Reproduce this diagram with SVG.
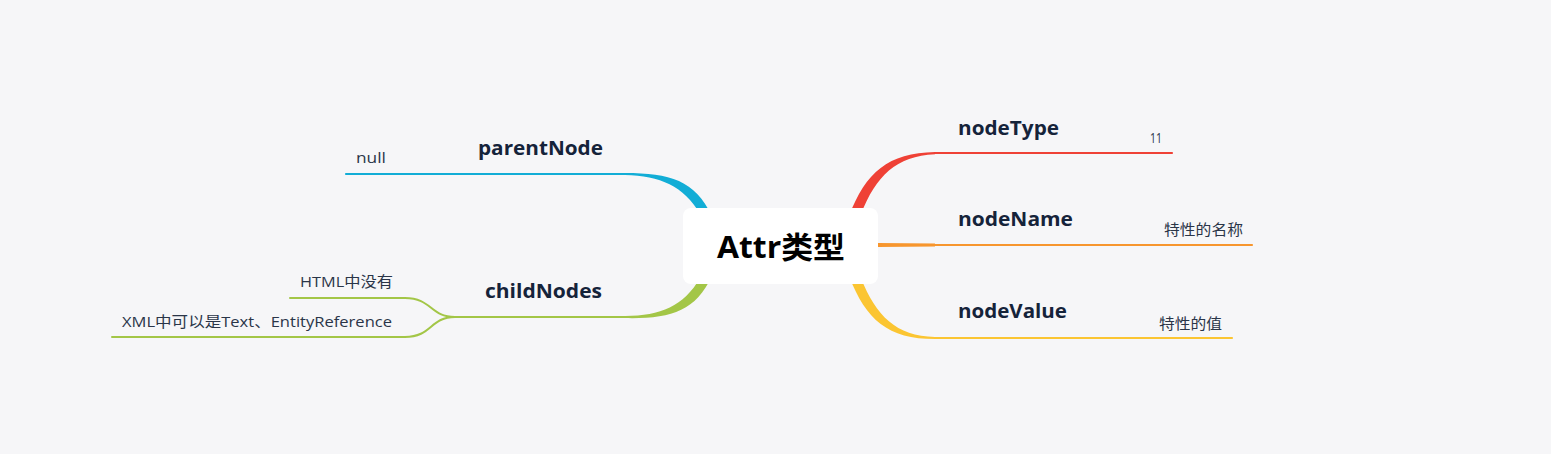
<svg xmlns="http://www.w3.org/2000/svg" width="1551" height="454" viewBox="0 0 1551 454">
<style>
.t1{font-family:"Open Sans","Noto Sans CJK SC",sans-serif;font-weight:700;font-size:19px;fill:#15233a}
.t2{font-family:"Open Sans","Noto Sans CJK SC",sans-serif;font-size:15px;fill:#2a3548}
.c{fill:none;stroke-linecap:round}
</style>
<rect width="1551" height="454" fill="#f6f6f8"/>
<g id="connectors">
<path d="M935,153 L1172,153" class="c" stroke="#ef4136" stroke-width="2.2"/>
<path d="M849,216 C866,172 888,153 935,152 L935,154.2 C896,156 876,176 861,214 Z" fill="#ef4136"/>
<path d="M935,245 L1252,245" class="c" stroke="#f7962e" stroke-width="2.2"/>
<path d="M878,243 L935,243.5 L935,246.5 L878,247 Z" fill="#f7962e"/>
<path d="M935,338 L1232,338" class="c" stroke="#fbc532" stroke-width="2.2"/>
<path d="M849,276 C866,320 888,339 935,339.1 L935,336.9 C896,336 876,316 861,278 Z" fill="#fbc532"/>
<path d="M625,174 L346,174" class="c" stroke="#12add6" stroke-width="2.2"/>
<path d="M712,216 C695,180 670,173 625,172.9 L625,175.1 C660,176 684,186 700,214 Z" fill="#12add6"/>
<path d="M625,317 L455,317" class="c" stroke="#a3c647" stroke-width="2.2"/>
<path d="M712,276 C695,312 670,319 625,318.1 L625,315.9 C660,316 684,306 700,278 Z" fill="#a3c647"/>
<path d="M455,317 C430,317 432,298 405,298 L290,298" class="c" stroke="#a3c647" stroke-width="2"/>
<path d="M455,317 C430,317 432,337 405,337 L112,337" class="c" stroke="#a3c647" stroke-width="2"/>
</g>
<g id="center">
<rect x="683" y="208" width="195" height="76" rx="8" fill="#ffffff"/>
<text x="717" y="258" textLength="128" lengthAdjust="spacingAndGlyphs" font-family="'Open Sans','Noto Sans CJK SC',sans-serif" font-weight="700" font-size="30" fill="#000">Attr类型</text>
</g>
<g id="nodeType"><text class="t1" x="958" y="135" textLength="101" lengthAdjust="spacingAndGlyphs">nodeType</text></g>
<g id="nodeType-val"><text class="t2" x="1150" y="143" textLength="12" lengthAdjust="spacingAndGlyphs">11</text></g>
<g id="nodeName"><text class="t1" x="958" y="226" textLength="115" lengthAdjust="spacingAndGlyphs">nodeName</text></g>
<g id="nodeName-val"><text class="t2" x="1164" y="235" textLength="79" lengthAdjust="spacingAndGlyphs">特性的名称</text></g>
<g id="nodeValue"><text class="t1" x="958" y="318" textLength="109" lengthAdjust="spacingAndGlyphs">nodeValue</text></g>
<g id="nodeValue-val"><text class="t2" x="1159" y="329" textLength="63" lengthAdjust="spacingAndGlyphs">特性的值</text></g>
<g id="parentNode"><text class="t1" x="478" y="155" textLength="125" lengthAdjust="spacingAndGlyphs">parentNode</text></g>
<g id="parentNode-val"><text class="t2" x="356" y="163" textLength="30" lengthAdjust="spacingAndGlyphs">null</text></g>
<g id="childNodes"><text class="t1" x="485" y="298" textLength="117" lengthAdjust="spacingAndGlyphs">childNodes</text></g>
<g id="child-1"><text class="t2" x="300" y="287" textLength="93" lengthAdjust="spacingAndGlyphs">HTML中没有</text></g>
<g id="child-2"><text class="t2" x="122" y="327" textLength="270" lengthAdjust="spacingAndGlyphs">XML中可以是Text、EntityReference</text></g>
</svg>
